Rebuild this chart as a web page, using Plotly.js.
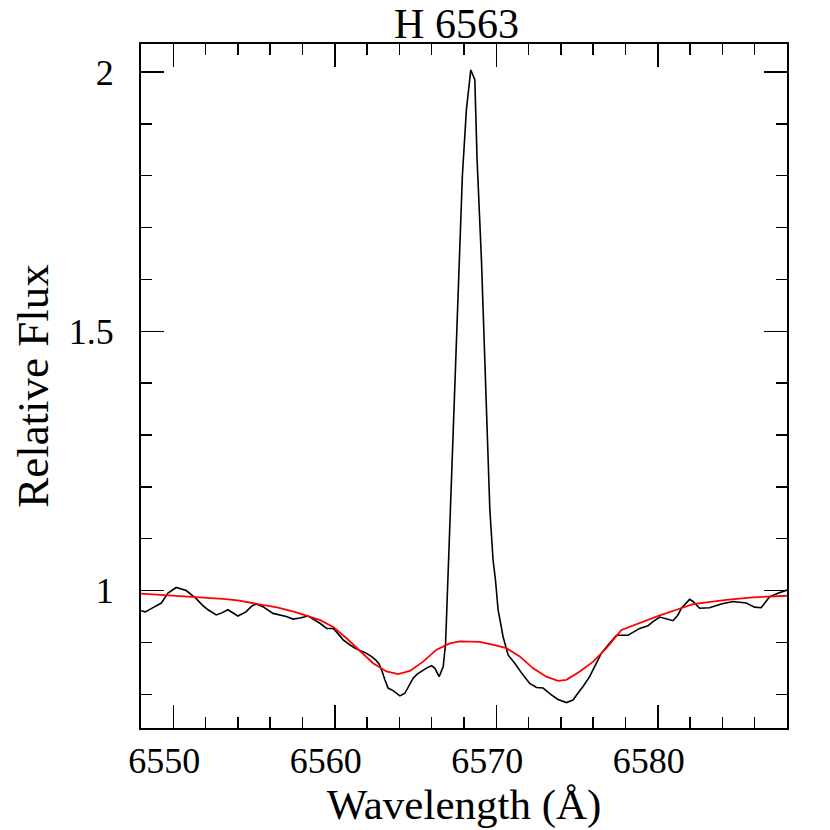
<!DOCTYPE html>
<html>
<head>
<meta charset="utf-8">
<script src="https://cdn.plot.ly/plotly-3.0.1.min.js"></script>
<style>
  html, body { margin: 0; padding: 0; background: #fff; }
  #chart { width: 830px; height: 830px; }
</style>
</head>
<body>
<div id="chart"></div>
<script>
// Observed spectrum around H-alpha
const obsWave = [6548.0, 6548.27, 6548.8, 6549.26, 6549.67, 6550.18, 6550.8, 6551.4, 6551.8, 6552.15,
  6552.66, 6553.0, 6553.38, 6554.0, 6554.5, 6554.85, 6555.13, 6555.55, 6556.17, 6556.7,
  6557.0, 6557.4, 6557.84, 6558.35, 6558.7, 6559.08, 6559.5, 6559.9, 6560.2, 6560.52,
  6560.9, 6561.24, 6561.6, 6561.97, 6562.3, 6562.54, 6562.75, 6562.9, 6563.1, 6563.3,
  6563.61, 6564.03, 6564.34, 6564.6, 6564.85, 6565.1, 6565.37, 6565.7, 6566.0, 6566.2,
  6566.46, 6566.71, 6566.86, 6567.15, 6567.43, 6567.65, 6567.9, 6568.15, 6568.42, 6568.67,
  6568.81, 6569.08, 6569.35, 6569.6, 6569.8, 6569.95, 6570.11, 6570.42, 6570.73, 6571.14,
  6571.66, 6572.07, 6572.49, 6572.9, 6573.41, 6573.82, 6574.34, 6574.75, 6575.12, 6575.37,
  6575.78, 6576.2, 6576.5, 6576.92, 6577.44, 6578.16, 6578.5, 6578.88, 6579.39, 6579.7,
  6580.12, 6580.53, 6580.94, 6581.25, 6581.46, 6581.97, 6582.18, 6582.59, 6583.2, 6583.93,
  6584.65, 6585.48, 6585.99, 6586.4, 6586.92, 6587.44, 6588.0];
const obsFlux = [0.961, 0.959, 0.968, 0.976, 0.995, 1.006, 1.0, 0.985, 0.972, 0.963,
  0.953, 0.957, 0.963, 0.951, 0.959, 0.970, 0.974, 0.969, 0.956, 0.953,
  0.950, 0.945, 0.947, 0.951, 0.945, 0.937, 0.927, 0.927, 0.917, 0.905,
  0.896, 0.889, 0.884, 0.879, 0.872, 0.866, 0.858, 0.847, 0.828, 0.812,
  0.807, 0.797, 0.802, 0.816, 0.831, 0.839, 0.845, 0.851, 0.855, 0.850,
  0.834, 0.853, 0.898, 1.15, 1.39, 1.58, 1.80, 1.928, 2.004, 1.985,
  1.831, 1.638, 1.40, 1.156, 1.059, 1.02, 0.963, 0.911, 0.876, 0.860,
  0.837, 0.821, 0.813, 0.812, 0.799, 0.790, 0.784, 0.789, 0.805, 0.815,
  0.834, 0.860, 0.879, 0.895, 0.914, 0.914, 0.920, 0.927, 0.932, 0.940,
  0.949, 0.945, 0.942, 0.953, 0.966, 0.983, 0.979, 0.966, 0.967, 0.974,
  0.979, 0.976, 0.968, 0.967, 0.988, 0.995, 1.001];

// Model profile
const modelWave = [6548.0, 6549.5, 6551.3, 6553.07, 6554.0, 6555.24, 6556.48, 6557.51, 6558.23, 6559.1,
  6559.9, 6560.73, 6561.55, 6562.37, 6563.2, 6563.92, 6564.65, 6565.47, 6566.3, 6567.12,
  6567.74, 6568.98, 6569.9, 6570.63, 6571.45, 6572.28, 6573.1, 6573.82, 6574.34, 6575.17,
  6576.0, 6576.82, 6577.75, 6579.08, 6580.12, 6581.25, 6582.18, 6584.24, 6585.89, 6588.0];
const modelFlux = [0.994, 0.991, 0.988, 0.984, 0.981, 0.974, 0.967, 0.959, 0.952, 0.943,
  0.930, 0.908, 0.884, 0.860, 0.844, 0.839, 0.845, 0.863, 0.886, 0.898,
  0.902, 0.901, 0.895, 0.889, 0.873, 0.850, 0.834, 0.826, 0.828, 0.844,
  0.863, 0.889, 0.924, 0.940, 0.952, 0.964, 0.974, 0.982, 0.987, 0.990];

const xTicks = [6550, 6560, 6570, 6580];
const yTicks = [1, 1.5, 2];
const yTickText = ['1', '1.5', '2'];

const serif = 'Liberation Serif, DejaVu Serif, serif';

const axisCommon = {
  showline: true, linecolor: '#000', linewidth: 2,
  mirror: 'ticks', ticks: 'inside', tickcolor: '#000', tickwidth: 1.5, ticklen: 23,
  showgrid: false, zeroline: false,
  tickfont: { family: serif, size: 36, color: '#000' }
};

Plotly.newPlot('chart', [{
  x: obsWave, y: obsFlux,
  type: 'scatter', mode: 'lines',
  line: { color: '#000', width: 1.6 },
  hoverinfo: 'skip'
}, {
  x: modelWave, y: modelFlux,
  type: 'scatter', mode: 'lines',
  line: { color: '#ff0000', width: 1.8 },
  hoverinfo: 'skip'
}], {
  width: 830, height: 830,
  margin: { l: 141, r: 43, t: 44, b: 102 },
  showlegend: false,
  paper_bgcolor: '#fff', plot_bgcolor: '#fff',
  title: {
    text: 'H 6563', font: { family: serif, size: 42, color: '#000' },
    x: 0.55, xref: 'container', y: 0.972, yref: 'container', yanchor: 'middle'
  },
  xaxis: Object.assign({}, axisCommon, {
    range: [6548, 6588],
    // PGPLOT-style labels sit a little left of their ticks
    tickvals: xTicks, ticktext: xTicks.map(v => v + '\u00a0\u00a0'),
    ticklabelstandoff: 0,
    minor: { dtick: 2, tick0: 6548, ticks: 'inside', ticklen: 11, tickwidth: 1.5, tickcolor: '#000' },
    title: { text: 'Wavelength (Å)', font: { family: serif, size: 43, color: '#000' }, standoff: 8 }
  }),
  yaxis: Object.assign({}, axisCommon, {
    range: [0.735, 2.054],
    tickvals: yTicks, ticktext: yTickText,
    ticklabelstandoff: 18,
    minor: { dtick: 0.1, tick0: 0, ticks: 'inside', ticklen: 11, tickwidth: 1.5, tickcolor: '#000' },
    title: { text: 'Relative Flux', font: { family: serif, size: 45, color: '#000' }, standoff: 6 }
  })
}, { staticPlot: true });
</script>
</body>
</html>
